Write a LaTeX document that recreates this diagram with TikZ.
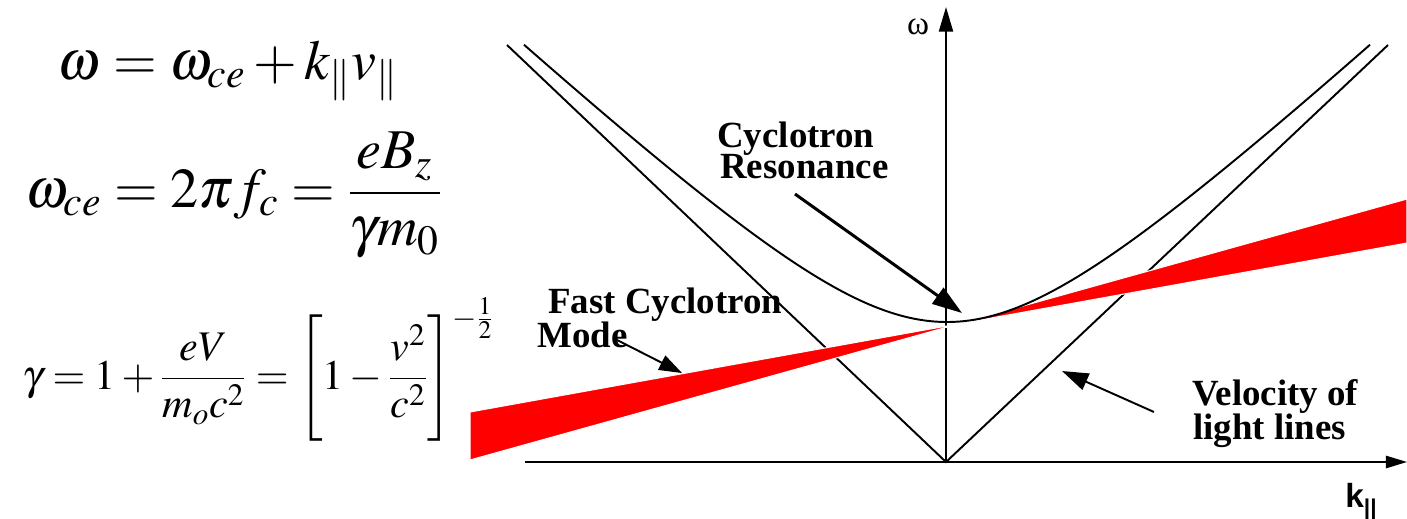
\documentclass[tikz,border=0pt]{standalone}
\usepackage{mathptmx}
\usepackage[no-math]{fontspec}
\setmainfont{Liberation Serif}
\newfontfamily\axsans{Liberation Sans}
\usetikzlibrary{arrows.meta}

\begin{document}
\begin{tikzpicture}[x=0.02cm,y=-0.02cm,
    curve/.style={black, line width=1.1pt},
    axis/.style={black, line width=1.1pt},
    pointer/.style={black, line width=1.1pt, -{Triangle[length=14pt,width=10pt]}},
    lbl/.style={font=\fontsize{21}{17}\selectfont\bfseries, inner sep=0pt, anchor=base west},
    eqbig/.style={font=\fontsize{32}{36}\selectfont, inner sep=0pt, anchor=base west},
    eqsmall/.style={font=\fontsize{24}{28}\selectfont, inner sep=0pt, anchor=base west}]
  \useasboundingbox (0,0) rectangle (1407,518);
  % axes
  \coordinate (O) at (946,462);
  \coordinate (ytop) at (946,7);
  \coordinate (xleft) at (525,462);
  \coordinate (xright) at (1407,462);
  \draw[axis, -{Triangle[length=14pt,width=8pt]}] (O) -- (ytop);
  \draw[axis, -{Triangle[length=12pt,width=7pt]}] (xleft) -- (xright);
  \node[font=\fontsize{19}{19}\selectfont] (wlab) at (918,27) {ω};
  \node[font=\fontsize{19}{19}\selectfont\axsans\bfseries, anchor=base west, inner sep=0pt] (klab) at (1345,507)
    {k\raisebox{-5pt}{\fontsize{13}{13}\selectfont ||}};
  % light lines
  \coordinate (lightl) at (507,45);
  \coordinate (lightr) at (1388,45);
  \draw[curve] (lightl) -- (O) -- (lightr);
  % beam line spread
  \fill[red, draw=white, line width=0.6pt] (470,412) -- (1407,243) -- (1407,199) -- (470,460) -- cycle;
  % waveguide mode
  \draw[curve] plot[domain=-423:423, samples=121, smooth]
    ({947+\x},{462-100*sqrt(1.96+(0.0093*\x)^2)});
  % labels
  \node[lbl] (crone) at (717,147) {Cyclotron};
  \node[lbl] (crtwo) at (720,178) {Resonance};
  \node[lbl] (fcone) at (548,313) {Fast Cyclotron};
  \node[lbl] (fctwo) at (537,347) {Mode};
  \node[lbl] (vlone) at (1192,405) {Velocity of};
  \node[lbl] (vltwo) at (1193,439) {light lines};
  \coordinate (crtail) at (795,194);
  \coordinate (crtip) at (962,313);
  \coordinate (fctail) at (617,340);
  \coordinate (fctip) at (682,373);
  \coordinate (vltail) at (1154,412);
  \coordinate (vltip) at (1062,371);
  \draw[pointer, line width=1.7pt, -{Triangle[length=17pt,width=11pt]}] (crtail) -- (crtip);
  \draw[pointer, -{Triangle[length=13pt,width=9pt]}] (fctail) -- (fctip);
  \draw[pointer, -{Triangle[length=15pt,width=10pt]}] (vltail) -- (vltip);
  % equations
  \node[eqbig] (eqone) at (57,79) {$\omega=\omega_{ce}+k_{\|}v_{\|}$};
  \node[eqbig] (eqtwo) at (25,207) {$\displaystyle\omega_{ce}=2\pi f_c=\frac{eB_z}{\gamma m_0}$};
  \node[eqsmall] (eqthree) at (22,389)
    {$\displaystyle\gamma=1+\frac{eV}{m_oc^2}=\Biggl[1-\frac{v^2}{c^2}\Biggr]^{-\frac{1}{2}}$};
\end{tikzpicture}
\end{document}
